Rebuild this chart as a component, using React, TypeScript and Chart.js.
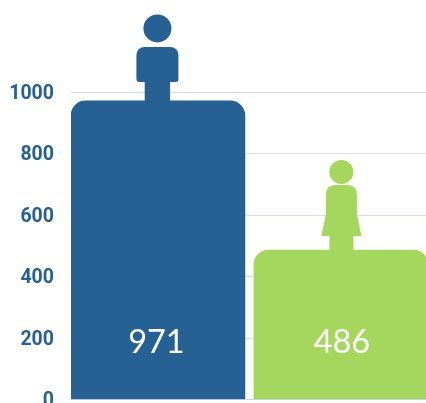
import React, { useEffect, useRef } from "react";
import { Chart, registerables } from "chart.js";

Chart.register(...registerables);

const categories = ["Male", "Female"];
const values = [971, 486];
const colors = ["#276092", "#a5d65d"];
const yTicks = [0, 200, 400, 600, 800, 1000];

type Ctx = CanvasRenderingContext2D;

function maleIcon(ctx: Ctx, cx: number, top: number) {
  ctx.beginPath();
  ctx.arc(cx, top - 72.5, 14, 0, Math.PI * 2);
  ctx.fill();
  ctx.beginPath();
  ctx.roundRect(cx - 21, top - 54, 42, 35, [8, 8, 3, 3]);
  ctx.fill();
  ctx.fillRect(cx - 12.7, top - 20, 25.4, 21);
}

function femaleIcon(ctx: Ctx, cx: number, top: number) {
  ctx.beginPath();
  ctx.arc(cx, top - 78, 12, 0, Math.PI * 2);
  ctx.fill();
  ctx.beginPath();
  ctx.moveTo(cx - 15.5, top - 55);
  ctx.quadraticCurveTo(cx - 15.5, top - 65, cx - 6, top - 65);
  ctx.lineTo(cx + 6, top - 65);
  ctx.quadraticCurveTo(cx + 15.5, top - 65, cx + 15.5, top - 55);
  ctx.lineTo(cx + 15.5, top - 36);
  ctx.lineTo(cx + 20, top - 14);
  ctx.lineTo(cx - 20, top - 14);
  ctx.lineTo(cx - 15.5, top - 36);
  ctx.closePath();
  ctx.fill();
  ctx.fillRect(cx - 12, top - 15, 24, 16);
}

const figurePlugin = {
  id: "figures",
  afterDatasetsDraw(chart: any) {
    const ctx: Ctx = chart.ctx;
    const bars = chart.getDatasetMeta(0).data;
    ctx.save();
    bars.forEach((bar: any, i: number) => {
      ctx.fillStyle = colors[i];
      if (i === 0) maleIcon(ctx, bar.x - 0.5, bar.y);
      else femaleIcon(ctx, bar.x + 0.5, bar.y);
      ctx.fillStyle = "#ffffff";
      ctx.font = "32.5px Lato";
      ctx.textAlign = "center";
      ctx.textBaseline = "middle";
      ctx.fillText(String(values[i]), bar.x + (i === 0 ? -1.5 : 1), chart.chartArea.bottom - 56.5);
    });
    ctx.restore();
  },
};

export default function App() {
  const ref = useRef<HTMLCanvasElement>(null);

  useEffect(() => {
    const chart = new Chart(ref.current!, {
      type: "bar",
      data: {
        labels: categories,
        datasets: [
          {
            data: values.map((v, i) => ({ x: i, y: v })),
            backgroundColor: colors,
            barThickness: 174,
            borderWidth: 0,
            borderRadius: { topLeft: 15, topRight: 15, bottomLeft: 0, bottomRight: 0 },
          },
        ],
      } as any,
      options: {
        animation: false,
        responsive: false,
        layout: { padding: { top: 92, bottom: 30.5, left: 0, right: 0 } },
        plugins: { legend: { display: false }, tooltip: { enabled: false } },
        scales: {
          x: {
            type: "linear",
            offset: false,
            min: -0.475,
            max: 1.465,
            ticks: { display: false },
            grid: { display: false, drawTicks: false, tickLength: 0 },
            border: { display: true, color: "#c5d5e6", width: 1 },
          },
          y: {
            min: 0,
            max: 1000,
            afterFit: (s: any) => {
              s.width = 71;
            },
            afterBuildTicks: (s: any) => {
              s.ticks = yTicks.map((value) => ({ value }));
            },
            ticks: {
              padding: 17,
              color: "#276092",
              font: { family: "Roboto", size: 19.5, weight: "bold", lineHeight: 0.2 },
              callback: (v: any) => ["", String(v)],
            },
            grid: { color: "#d5deea", lineWidth: 1, drawTicks: false },
            border: { display: false },
          },
        },
      } as any,
      plugins: [figurePlugin],
    });
    return () => chart.destroy();
  }, []);

  return (
    <div style={{ position: "fixed", left: 0, top: 0, width: 426, height: 403, overflow: "hidden" }}>
      <canvas ref={ref} width={426} height={430} style={{ display: "block" }} />
    </div>
  );
}
